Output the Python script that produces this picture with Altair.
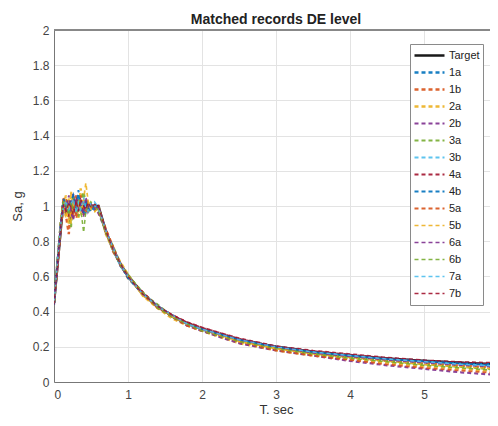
import altair as alt
import pandas as pd

# ---------------- data ----------------
T_target = [0, 0.12, 0.6, 0.7, 0.8, 0.9, 1.0, 1.2, 1.4, 1.6, 1.8, 2.0, 2.5, 3.0, 3.5, 4.0, 4.5, 5.0, 5.5, 6.0]
Sa_target = [0.45, 1.0, 1.0, 0.857, 0.75, 0.667, 0.6, 0.5, 0.429, 0.375, 0.333, 0.3, 0.24, 0.2, 0.171, 0.15, 0.133, 0.12, 0.109, 0.1]

T_rec = [0, 0.05, 0.1, 0.13, 0.16, 0.2, 0.23, 0.26, 0.3, 0.33, 0.36, 0.4, 0.43, 0.46, 0.5, 0.55, 0.6,
         0.7, 0.8, 0.9, 1.0, 1.2, 1.4, 1.6, 1.8, 2.0, 2.5, 3.0, 3.5, 4.0, 4.5, 5.0, 5.5, 6.0]

rec_1a = [0.45, 0.69, 0.94, 1.02, 0.98, 1.03, 0.97, 1.01, 0.99, 1.04, 0.98, 1.02, 0.97, 1.01, 0.99, 0.98, 0.99, 0.85, 0.76, 0.66, 0.60, 0.50, 0.43, 0.37, 0.33, 0.30, 0.24, 0.20, 0.17, 0.15, 0.133, 0.12, 0.108, 0.098]
rec_1b = [0.46, 0.67, 0.92, 1.05, 0.95, 0.84, 1.02, 0.93, 1.06, 0.97, 1.01, 0.95, 1.03, 0.98, 1.0, 1.01, 0.97, 0.87, 0.74, 0.67, 0.59, 0.51, 0.42, 0.38, 0.33, 0.30, 0.23, 0.19, 0.16, 0.14, 0.12, 0.105, 0.093, 0.08]
rec_2a = [0.45, 0.70, 0.95, 0.99, 1.06, 0.90, 1.08, 0.96, 1.00, 0.93, 1.10, 1.0, 0.96, 1.02, 0.98, 0.97, 1.0, 0.84, 0.75, 0.68, 0.61, 0.49, 0.42, 0.36, 0.32, 0.29, 0.22, 0.18, 0.15, 0.13, 0.11, 0.09, 0.075, 0.06]
rec_2b = [0.44, 0.68, 0.93, 1.0, 0.97, 1.04, 0.92, 1.07, 0.95, 1.03, 0.99, 0.96, 1.02, 0.97, 1.01, 0.99, 0.96, 0.86, 0.76, 0.66, 0.60, 0.50, 0.43, 0.37, 0.32, 0.29, 0.22, 0.18, 0.15, 0.12, 0.095, 0.075, 0.055, 0.04]
rec_3a = [0.45, 0.69, 0.94, 1.03, 0.96, 1.01, 0.88, 1.05, 1.00, 0.94, 1.02, 1.08, 1.01, 0.96, 1.02, 1.0, 0.98, 0.85, 0.77, 0.67, 0.61, 0.50, 0.44, 0.37, 0.33, 0.30, 0.24, 0.19, 0.16, 0.14, 0.12, 0.10, 0.085, 0.07]
rec_3b = [0.46, 0.70, 0.93, 0.98, 1.02, 0.96, 1.04, 0.99, 1.01, 1.06, 0.97, 1.03, 0.98, 1.0, 0.97, 1.02, 0.99, 0.86, 0.75, 0.66, 0.60, 0.50, 0.43, 0.38, 0.33, 0.30, 0.24, 0.20, 0.17, 0.15, 0.13, 0.115, 0.10, 0.09]
rec_4a = [0.45, 0.68, 0.92, 1.01, 0.99, 0.94, 1.03, 0.97, 1.05, 0.99, 1.02, 0.97, 1.01, 0.98, 1.0, 0.99, 1.0, 0.85, 0.76, 0.67, 0.60, 0.51, 0.43, 0.38, 0.34, 0.31, 0.245, 0.20, 0.175, 0.155, 0.135, 0.12, 0.11, 0.10]
rec_4b = [0.44, 0.69, 0.94, 1.04, 1.0, 0.97, 1.02, 1.06, 0.98, 1.09, 1.0, 0.95, 1.03, 0.99, 0.97, 1.01, 0.98, 0.86, 0.75, 0.67, 0.59, 0.50, 0.43, 0.37, 0.33, 0.30, 0.24, 0.20, 0.17, 0.15, 0.13, 0.118, 0.105, 0.095]
rec_5a = [0.45, 0.67, 0.91, 0.97, 1.04, 1.0, 0.95, 1.03, 0.93, 1.0, 1.06, 0.99, 0.96, 1.02, 0.99, 1.0, 0.97, 0.87, 0.77, 0.66, 0.61, 0.50, 0.42, 0.37, 0.32, 0.29, 0.23, 0.18, 0.15, 0.125, 0.10, 0.08, 0.065, 0.05]
rec_5b = [0.45, 0.70, 0.95, 1.02, 0.93, 1.05, 0.90, 1.01, 0.97, 1.00, 0.96, 1.04, 1.13, 1.03, 0.98, 0.97, 0.99, 0.85, 0.75, 0.67, 0.60, 0.49, 0.43, 0.37, 0.33, 0.30, 0.23, 0.19, 0.16, 0.14, 0.12, 0.10, 0.088, 0.075]
rec_6a = [0.46, 0.68, 0.93, 1.0, 0.98, 1.06, 0.97, 0.92, 1.04, 0.98, 1.01, 0.94, 1.05, 0.99, 1.01, 0.98, 1.0, 0.86, 0.76, 0.67, 0.60, 0.50, 0.43, 0.38, 0.33, 0.30, 0.24, 0.20, 0.165, 0.145, 0.125, 0.11, 0.095, 0.085]
rec_6b = [0.45, 0.69, 0.92, 1.03, 1.01, 0.95, 1.02, 0.98, 0.97, 1.04, 0.99, 0.85, 0.97, 1.01, 1.0, 0.99, 0.98, 0.85, 0.75, 0.66, 0.61, 0.51, 0.42, 0.37, 0.33, 0.29, 0.23, 0.19, 0.16, 0.135, 0.115, 0.095, 0.08, 0.065]
rec_7a = [0.45, 0.70, 0.94, 0.99, 1.03, 0.98, 1.01, 1.04, 0.96, 1.02, 0.98, 1.05, 0.99, 0.97, 1.02, 1.0, 0.99, 0.86, 0.76, 0.67, 0.60, 0.50, 0.43, 0.38, 0.33, 0.30, 0.24, 0.20, 0.17, 0.15, 0.13, 0.115, 0.10, 0.09]
rec_7b = [0.44, 0.68, 0.93, 1.01, 0.97, 1.02, 0.99, 0.95, 1.03, 0.97, 1.04, 1.0, 0.98, 1.02, 0.99, 1.01, 1.0, 0.86, 0.75, 0.67, 0.60, 0.50, 0.43, 0.38, 0.34, 0.31, 0.25, 0.205, 0.18, 0.16, 0.14, 0.125, 0.115, 0.11]

record_names = ["1a", "1b", "2a", "2b", "3a", "3b", "4a", "4b", "5a", "5b", "6a", "6b", "7a", "7b"]
record_values = [rec_1a, rec_1b, rec_2a, rec_2b, rec_3a, rec_3b, rec_4a, rec_4b,
                 rec_5a, rec_5b, rec_6a, rec_6b, rec_7a, rec_7b]

x_ticks = [0, 1, 2, 3, 4, 5, 6]
y_ticks = [0, 0.2, 0.4, 0.6, 0.8, 1, 1.2, 1.4, 1.6, 1.8, 2]

matlab_colors = ["#0072BD", "#D95319", "#EDB120", "#7E2F8E", "#77AC30", "#4DBEEE", "#A2142F"]

# ---------------- table ----------------
rows = []
for t, s in zip(T_target, Sa_target):
    rows.append({"T": t, "Sa": s, "series": "Target"})
for name, vals in zip(record_names, record_values):
    for t, s in zip(T_rec, vals):
        rows.append({"T": t, "Sa": s, "series": name})
df = pd.DataFrame(rows)

domain = ["Target"] + record_names
colors = ["#000000"] + [matlab_colors[i % 7] for i in range(len(record_names))]
dashes = [[1, 0]] + [[4, 3]] * len(record_names)
widths = [2.6] + [1.3] * len(record_names)

FONT = "Liberation Sans"
PLOT_W = 436
PLOT_H = 352
# the reference is cropped at the right edge: visible x range stops just short of 6
X_MAX = 5.89

legend = alt.Legend(
    title=None, orient="none", legendX=356, legendY=14,
    fillColor="white", strokeColor="#8a8a8a", padding=3,
    symbolType="stroke", symbolSize=900, clipHeight=17, rowPadding=0,
    labelFont=FONT, labelFontSize=11, labelColor="#222222", labelOffset=3,
)

lines = alt.Chart(df).mark_line(clip=True, opacity=0.9).encode(
    x=alt.X("T:Q", scale=alt.Scale(domain=[0, X_MAX], nice=False, zero=False),
            axis=alt.Axis(title="T. sec", values=x_ticks, format="~g", labelPadding=7, titlePadding=3,
                          titleX=222)),
    y=alt.Y("Sa:Q", scale=alt.Scale(domain=[0, 2], nice=False),
            axis=alt.Axis(title="Sa, g", values=y_ticks, format="~g", labelPadding=5, titlePadding=8)),
    color=alt.Color("series:N", scale=alt.Scale(domain=domain, range=colors), legend=legend),
    strokeDash=alt.StrokeDash("series:N", scale=alt.Scale(domain=domain, range=dashes), legend=legend),
    strokeWidth=alt.StrokeWidth("series:N", scale=alt.Scale(domain=domain, range=widths), legend=legend),
    detail="series:N",
    order="T:Q",
)

top_border = alt.Chart(df).mark_rule(color="#888888", strokeWidth=1).encode(
    x=alt.value(0), x2=alt.value(PLOT_W), y=alt.value(0)
)

chart = alt.layer(lines, top_border).properties(
    width=PLOT_W, height=PLOT_H,
    title=alt.TitleParams("Matched records DE level", font=FONT, fontSize=14, fontWeight="bold",
                          color="#222222", offset=5, dy=8, dx=4),
    autosize=alt.AutoSizeParams(type="none"),
    padding={"left": 46, "top": 22, "right": 0, "bottom": 36},
).configure_axis(
    labelFont=FONT, titleFont=FONT, labelFontSize=12, titleFontSize=13,
    labelColor="#444444", titleColor="#333333", titleFontWeight="normal",
    gridColor="#e3e3e3", gridWidth=1, domainColor="#777777", ticks=False,
).configure_view(stroke=None)

chart.save("out.html", embed_options={"renderer": "svg", "actions": False})
